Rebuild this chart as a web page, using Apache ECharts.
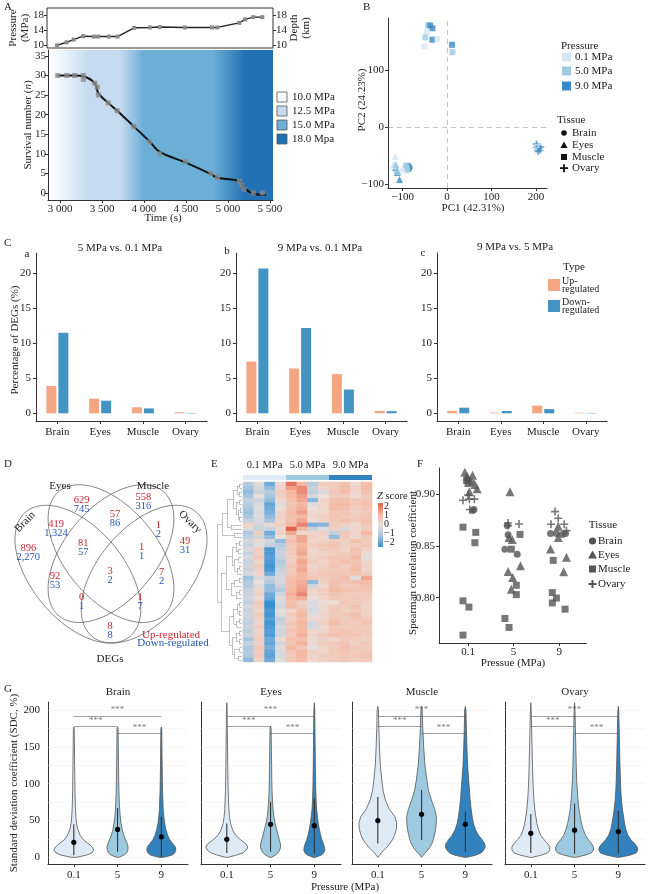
<!DOCTYPE html>
<html><head><meta charset="utf-8">
<script src="https://cdn.jsdelivr.net/npm/echarts@6.0.0/dist/echarts.min.js"></script>
<style>html,body{margin:0;padding:0;background:#fff;}#main{width:649px;height:894px;}</style>
</head><body><div id="main"></div>
<script>
// ======================= DATA =======================
// Panel A
const presTime = [2976,3088,3174,3285,3415,3463,3590,3693,3890,4076,4195,4492,4813,4875,5136,5204,5302,5409];
const presMPa  = [10.0,10.8,11.5,12.4,12.3,12.3,12.3,12.3,14.6,14.7,14.8,14.7,14.7,14.7,15.9,16.8,17.4,17.4];
const survTime = [2973,3080,3174,3278,3278,3415,3444,3456,3574,3681,3878,4064,4187,4492,4797,4875,5136,5164,5192,5302,5409];
const survN    = [30,30,30,30,29,28,27,25,23,21,17,13,10,8,5,4,3,2,1,0,0];
const survLineTime = [2973,3174,3278,3415,3456,3574,3681,3878,4064,4187,4492,4797,4875,5136,5192,5302,5450];
const survLineN    = [30,30,29.8,28,25.5,23,21,17,13.2,10.5,7.8,4.8,3.9,3.0,1.3,-0.2,-0.5];
const presLegend = ['10.0 MPa','12.5 MPa','15.0 MPa','18.0 Mpa'];
const presTicks = [10,14,18];
const timeTicks = [3000,3500,4000,4500,5000,5500];
const survTicks = [0,5,10,15,20,25,30,35];

// Panel B (PCA)
const pcaPC1 =  [-43,-38,-33,-46,-49,-33,-51,-22,11,12,   201,204,207,203,209,211,199,206,205,  -87,-84,-86,-95,-99,-92,-90,-93,-89,  -117,-119,-116,-114,-112,-107,-121,-115,-110];
const pcaPC2 =  [178,178,173,167,157,153,141,154,144,131, -30,-34,-37,-40,-41,-35,-36,-31,-43,  -68,-71,-74,-72,-75,-77,-70,-67,-75,   -52,-64,-71,-75,-80,-92,-68,-66,-78];
const pcaTissue=[2,2,2,2,2,2,2,2,2,2, 3,3,3,3,3,3,3,3,3, 0,0,0,0,0,0,0,0,0, 1,1,1,1,1,1,1,1,1];
const pcaPres = [1,2,2,0,1,2,0,0,2,1, 2,2,2,1,2,2,1,0,2, 2,2,2,0,0,0,1,1,1, 0,0,2,1,2,2,0,1,1];
const pressureNames = ['0.1 MPa','5.0 MPa','9.0 MPa'];
const tissueNames = ['Brain','Eyes','Muscle','Ovary'];

// Panel C (DEG percentages)
const degUpA   = [3.9,2.1,0.86,0.15];
const degDownA = [11.5,1.8,0.7,0.05];
const degUpB   = [7.4,6.4,5.6,0.33];
const degDownB = [20.7,12.2,3.4,0.3];
const degUpC   = [0.33,0.1,1.1,0.08];
const degDownC = [0.8,0.33,0.6,0.05];
const degTitles = ['5 MPa vs. 0.1 MPa','9 MPa vs. 0.1 MPa','9 MPa vs. 5 MPa'];
const degTicks = [0,5,10,15,20];

// Panel D (Venn counts)
const vennUp   = [629,558,419,57,1,49,896,81,1,92,3,7,0,1,8];
const vennDown = [745,316,1324,86,2,31,2270,57,1,53,2,2,1,7,8];

// Panel E (heatmap z scores, 44 genes x 12 samples)
const heatRows = [
[-0.8,-0.2,-1.5,0.2,1.8,1.0,-0.8,0.5,0.5,0.7,0.2,0.8],
[-1.0,-0.3,-1.2,0.3,1.3,1.5,-0.5,0.3,0.5,0.8,0.4,0.9],
[-1.2,-0.5,-0.8,0.5,1.0,1.5,-0.6,-0.2,0.6,0.9,0.3,0.8],
[-1.0,0.0,-1.0,0.4,0.9,1.3,-0.3,0.0,0.5,0.6,0.2,0.6],
[-0.6,-0.5,-1.2,0.2,0.8,1.2,-1.3,0.3,0.8,0.8,0.6,0.7],
[-0.8,-0.3,-1.6,-0.2,0.7,1.0,-0.2,0.3,0.9,0.9,0.6,0.8],
[-1.0,-0.2,-1.5,0.1,0.8,1.1,0.0,0.3,0.9,0.8,0.5,0.7],
[-1.1,-0.3,-1.4,0.3,0.9,1.3,0.2,0.2,0.7,0.7,0.4,0.6],
[-0.9,-0.2,-1.2,0.4,0.8,1.0,0.3,0.4,0.7,0.6,0.5,0.6],
[-0.5,-0.3,-1.0,0.3,0.8,1.2,0.1,0.3,0.6,0.8,0.6,0.7],
[0.3,-0.4,0.2,0.4,1.0,1.6,-1.4,-1.3,0.5,0.4,0.2,0.6],
[-0.2,-0.5,-0.5,0.2,2.0,1.0,-0.5,-0.2,0.4,-0.3,0.3,0.5],
[-0.9,0.5,-1.5,0.4,1.2,0.2,0.3,0.4,-0.6,0.6,0.3,1.0],
[-0.6,-0.4,-1.2,0.0,0.6,1.2,0.4,0.3,-1.2,0.5,0.2,0.6],
[-0.4,0.2,-0.4,-1.2,0.8,1.2,0.3,0.4,0.6,0.4,0.8,0.5],
[-0.5,-0.2,-0.6,-0.8,0.6,1.0,0.5,0.6,0.7,0.4,0.5,0.6],
[-0.3,0.5,-1.8,-0.6,0.6,1.1,0.3,0.5,0.6,0.3,0.8,0.4],
[-0.5,0.4,-1.8,-0.5,0.5,1.2,0.3,0.4,0.5,0.5,0.7,0.2],
[-0.3,0.6,-1.7,-0.6,0.5,1.0,0.4,0.5,0.7,0.6,0.9,-0.1],
[-0.5,0.3,-1.8,-0.8,0.4,1.2,0.5,0.3,0.6,0.8,0.7,0.3],
[-0.4,0.5,-1.9,-0.7,0.6,1.1,0.3,0.4,0.7,0.5,0.8,0.4],
[-0.5,0.4,-1.8,-0.5,0.5,1.2,0.4,0.5,0.6,0.6,0.9,0.3],
[-0.3,0.3,-1.5,-0.4,0.6,1.0,0.5,0.6,0.7,0.6,0.7,0.5],
[-1.1,-0.3,-0.6,-0.3,0.8,1.0,0.6,0.5,0.7,0.8,-0.2,1.2],
[-0.8,0.0,-0.8,-0.3,0.9,1.1,-1.2,0.4,0.8,0.7,0.8,0.9],
[-0.8,-0.2,-1.2,-0.5,0.8,1.2,-0.4,0.2,0.8,0.6,0.6,0.8],
[-0.6,0.3,-1.2,-0.8,1.0,1.3,0.3,0.5,0.9,0.8,0.7,0.7],
[-0.5,0.4,-1.5,-0.4,1.1,1.6,0.2,0.4,0.7,0.6,0.5,0.6],
[-0.4,0.2,-1.6,-0.2,1.0,1.1,0.1,0.3,0.6,0.5,0.6,0.5],
[-0.6,0.5,-2.0,-0.3,0.8,0.4,-0.3,0.1,0.1,0.6,0.5,0.4],
[-0.3,0.4,-2.0,-0.4,0.9,0.5,-0.2,0.2,0.5,0.5,0.7,0.3],
[-0.5,0.3,-1.8,-0.1,0.3,0.8,-0.3,0.2,0.6,0.4,0.6,0.4],
[-0.4,0.5,-1.9,-0.2,0.5,1.0,-0.2,0.3,0.5,0.6,0.8,0.3],
[-0.5,0.4,-1.7,-0.6,0.4,0.8,0.2,0.3,0.7,0.5,0.7,0.6],
[-0.6,0.3,-1.9,-0.5,0.6,1.0,-0.3,0.4,0.9,0.6,0.5,0.7],
[-0.5,0.5,-1.8,-0.3,0.5,0.9,-0.3,0.2,0.6,0.5,0.6,0.5],
[-0.7,0.4,-1.7,-0.4,0.7,1.0,0.2,0.3,0.6,0.7,0.6,0.6],
[-0.5,0.4,-1.8,-0.4,0.6,1.1,0.3,0.6,0.8,0.6,0.7,0.5],
[-1.0,0.5,-1.5,0.2,0.8,0.8,0.2,0.4,0.3,0.6,0.5,0.4],
[-0.6,0.4,-1.6,-0.4,0.7,1.1,0.2,0.5,0.6,0.7,0.4,0.6],
[-0.9,0.6,-1.4,-0.2,1.0,0.7,-0.1,0.3,0.5,0.8,0.6,0.5],
[-0.8,0.5,-1.6,-0.3,0.7,1.0,0.4,0.3,0.6,0.7,0.5,0.6],
[-0.9,0.6,-1.7,-0.3,0.6,1.0,0.3,0.5,0.5,0.6,0.6,0.7],
[-1.2,0.4,-1.5,-0.2,0.6,0.9,0.3,0.4,0.5,0.6,0.5,0.6]
];
const dendroTree = [1.0,
  [0.8,
    [0.6,
      [0.35,[0.2,[0.1,0,1],[0.12,2,3]],[0.25,[0.1,4,5],[0.15,[0.08,6,7],[0.1,8,9]]]],
      [0.45,10,11]],
    [0.3,12,13]],
  [0.85,
    [0.65,
      [0.4,[0.25,[0.12,14,15],[0.15,16,17]],[0.3,[0.15,18,19],[0.2,[0.1,20,21],22]]],
      [0.45,[0.3,[0.12,23,24],25],[0.25,[0.1,26,27],28]]],
    [0.5,
      [0.35,[0.2,[0.1,29,30],[0.12,31,32]],[0.22,[0.1,33,34],35]],
      [0.4,[0.25,[0.1,36,37],[0.12,38,39]],[0.3,[0.1,40,41],[0.15,42,43]]]]]];
const zTicks = [2,1,0,-1,-2];

// Panel F (Spearman correlations): jittered x position, value, tissue
const corrX = [1.0,1.07,1.1,1.13, 0.93,1.1,1.2,1.15,0.98,1.03, 0.89,1.17,1.15,0.89,1.02,0.89,0.97,1.0, 0.89,1.03,1.14,1.0,1.04,
               1.86,1.88,1.81,2.08, 1.92,1.9,1.97,2.15,1.88,1.98,1.95, 1.95,2.06,2.06,2.14,1.81,1.9, 1.88,1.88,2.12,
               2.81,2.94,3.07,3.14, 2.98,2.98,2.81,3.16,3.1, 2.87,2.85,2.94,2.85,3.13, 2.91,2.98,2.82,3.11,3.16];
const corrY = [0.914,0.911,0.884,0.885, 0.921,0.918,0.905,0.909,0.917,0.902, 0.868,0.863,0.853,0.797,0.791,0.764,0.913,0.910, 0.894,0.895,0.895,0.899,0.885,
               0.8695,0.8606,0.8468,0.842, 0.902,0.858,0.856,0.8308,0.8253,0.8195,0.8083, 0.8468,0.812,0.803,0.861,0.780,0.7714, 0.872,0.8695,0.871,
               0.862,0.862,0.861,0.862, 0.869,0.858,0.847,0.839,0.825, 0.836,0.805,0.7997,0.795,0.789, 0.883,0.8766,0.8708,0.8708,0.8647];
const corrTissue = [0,0,0,0, 1,1,1,1,1,1, 2,2,2,2,2,2,2,2, 3,3,3,3,3,
                    0,0,0,0, 1,1,1,1,1,1,1, 2,2,2,2,2,2, 3,3,3,
                    0,0,0,0, 1,1,1,1,1, 2,2,2,2,2, 3,3,3,3,3];
const corrCats = ['0.1','5','9'];
const corrTicks = [0.80,0.85,0.90];

// Panel G (violin profiles: relative half-width at vGridY; top = tail end)
const vGridY = [0,3,6,10,14,18,24,30,38,46,55,65,78,91,105,125,150,175,200];
const vBrain01 = [0.10,0.60,0.85,0.95,0.88,0.72,0.45,0.30,0.19,0.13,0.10,0.08,0.065,0.055,0.05,0.04,0.03,0.02];
const vBrain5  = [0.05,0.30,0.43,0.49,0.50,0.47,0.38,0.30,0.22,0.17,0.13,0.10,0.08,0.065,0.055,0.045,0.035,0.025];
const vBrain9  = [0.10,0.50,0.64,0.69,0.67,0.56,0.40,0.30,0.22,0.16,0.12,0.09,0.075,0.06,0.05,0.04,0.03,0.02];
const vEyes01  = [0.05,0.45,0.75,0.93,1.00,0.92,0.65,0.42,0.27,0.18,0.13,0.10,0.08,0.065,0.055,0.045,0.035,0.025,0.015];
const vEyes5   = [0.05,0.22,0.35,0.44,0.48,0.47,0.42,0.36,0.29,0.22,0.16,0.12,0.09,0.07,0.06,0.05,0.04,0.025];
const vEyes9   = [0.05,0.32,0.45,0.50,0.48,0.44,0.36,0.30,0.24,0.19,0.15,0.11,0.085,0.07,0.06,0.05,0.04,0.03,0.02];
const vMuscle01= [0.00,0.08,0.16,0.30,0.44,0.55,0.70,0.80,0.88,0.90,0.82,0.56,0.36,0.25,0.19,0.12,0.08,0.05,0.03];
const vMuscle5 = [0.00,0.08,0.17,0.30,0.40,0.48,0.56,0.61,0.67,0.70,0.71,0.63,0.47,0.33,0.25,0.16,0.10,0.06,0.03];
const vMuscle9 = [0.05,0.50,0.75,0.88,0.95,0.93,0.80,0.63,0.48,0.39,0.33,0.28,0.23,0.20,0.16,0.11,0.075,0.05,0.03];
const vOvary01 = [0.05,0.50,0.80,0.90,0.90,0.82,0.63,0.47,0.36,0.29,0.24,0.19,0.15,0.12,0.10,0.08,0.06,0.04,0.02];
const vOvary5  = [0.05,0.50,0.80,0.90,0.90,0.83,0.66,0.52,0.41,0.33,0.27,0.21,0.16,0.13,0.10,0.08,0.06,0.04,0.02];
const vOvary9  = [0.05,0.55,0.85,0.93,0.90,0.80,0.60,0.46,0.36,0.30,0.25,0.20,0.15,0.12,0.10,0.08,0.06,0.04,0.02];
const vTop  = [[177,177,177],[210,178,210],[205,205,205],[210,210,205]];
const vMid  = [[20.4,38,28],[24.5,45,43],[50,58.4,45],[32.6,37,35]];
const vLo   = [[3,7.6,0],[6,7.5,5],[19,23.5,7.6],[6,5,5]];
const vHi   = [[45,67,55],[46,75.5,80],[82,91.5,62],[59,73,63]];
const sigLevels = [192,177.5,168.5];
const sdcTicks = [0,50,100,150,200];
const sdcGrid = [0,25,50,75,100,125,150,175,200];

// ======================= BUILD =======================
const FONT = "'Liberation Serif','Times New Roman',serif";
const TXT = '#222';
const grid=[], xAxis=[], yAxis=[], series=[], graphic=[];

function addGrid(box){
  grid.push(Object.assign({containLabel:false, outerBoundsMode:'none', show:false}, box));
  return grid.length-1;
}
function valAxis(min,max,ticks,o){
  o=o||{};
  return {type:'value', min, max, position:o.pos,
    axisLine:{show:o.line!==false, onZero:false, lineStyle:{color:'#333', width:1}},
    axisTick:{show:!!ticks && o.tick!==false, length:3, inside:!!o.inside, customValues:ticks||[], lineStyle:{color:'#333'}},
    axisLabel:{show:!!ticks && o.label!==false, customValues:ticks||[], margin:o.margin==null?4:o.margin, formatter:o.fmt,
      fontFamily:FONT, fontSize:o.fs||11, color:TXT},
    splitLine:{show:false}, inverse:!!o.inverse};
}
function addX(gi,ax){ax.gridIndex=gi; xAxis.push(ax); return xAxis.length-1;}
function addY(gi,ax){ax.gridIndex=gi; yAxis.push(ax); return yAxis.length-1;}
function T(x,y,text,o){
  o=o||{};
  const st={text, fill:o.color||TXT, fontFamily:FONT, fontSize:o.size||11, fontStyle:o.italic?'italic':'normal',
    align:o.align||'center', verticalAlign:o.va||'middle', textAlign:o.align||'center', textVerticalAlign:o.va||'middle'};
  if(o.lh) st.lineHeight=o.lh;
  if(o.rich) st.rich=o.rich;
  graphic.push({type:'text', x, y, rotation:o.rot||0, z:50, silent:true, style:st});
}
function R(x,y,w,h,fill,stroke){
  graphic.push({type:'rect', shape:{x,y,width:w,height:h}, z:50, silent:true,
    style:{fill, stroke:stroke||null, lineWidth:stroke?0.8:0}});
}
const minusFmt = v => v<0 ? '\u2212'+(-v) : String(v);

// ---------- Panel A ----------
const tMin=2857, tMax=5536;
const presColors = ['#f7fbff','#c6dbef','#6baed6','#2171b5'];
let g = addGrid({left:47, top:8, width:226, height:40, show:true, borderColor:'#333', borderWidth:1, backgroundColor:'rgba(0,0,0,0)'});
let xi = addX(g, valAxis(tMin,tMax,null,{line:false}));
let yi = addY(g, valAxis(9.3,19.8,presTicks,{line:false, margin:3}));
addY(g, valAxis(9.3,19.8,presTicks,{line:false, pos:'right', margin:3}));
series.push({type:'line', xAxisIndex:xi, yAxisIndex:yi, data:presTime.map((t,i)=>[t,presMPa[i]]),
  symbol:'rect', symbolSize:4, showAllSymbol:true, itemStyle:{color:'#8a8a8a'}, lineStyle:{color:'#222', width:1.4}, z:3});

g = addGrid({left:48, top:50, width:225, height:150, show:true, borderWidth:0,
  backgroundColor:new echarts.graphic.LinearGradient(0,0,1,0,[
    {offset:0,color:'#ffffff'},{offset:0.035,color:'#f7fbff'},{offset:0.18,color:'#c6dbef'},{offset:0.32,color:'#c6dbef'},
    {offset:0.425,color:'#6baed6'},{offset:0.735,color:'#6baed6'},{offset:0.876,color:'#2171b5'},{offset:1,color:'#2171b5'}])});
xi = addX(g, valAxis(tMin,tMax,timeTicks,{fmt:v=>Math.floor(v/1000)+' '+String(v%1000).padStart(3,'0'), margin:4}));
yi = addY(g, valAxis(-1.8,36.5,survTicks,{margin:2}));
series.push({type:'line', xAxisIndex:xi, yAxisIndex:yi, data:survLineTime.map((t,i)=>[t,survLineN[i]]),
  symbol:'none', smooth:0.35, lineStyle:{color:'#111', width:2}, z:3});
series.push({type:'scatter', xAxisIndex:xi, yAxisIndex:yi, data:survTime.map((t,i)=>[t,survN[i]]),
  symbol:'rect', symbolSize:5, itemStyle:{color:'#888'}, z:4});
T(4,7,'A',{align:'left'});
T(19,28,'Pressure\n(MPa)',{rot:Math.PI/2, lh:12});
T(300,28,'Depth\n(km)',{rot:Math.PI/2, lh:12});
graphic.push({type:'text', x:28, y:125, rotation:Math.PI/2, z:50, silent:true, style:{text:'Survival number ({i|n})',
  fill:TXT, fontFamily:FONT, fontSize:11, align:'center', verticalAlign:'middle', textAlign:'center', textVerticalAlign:'middle',
  rich:{i:{fontStyle:'italic', fontFamily:FONT, fontSize:11, fill:TXT}}}});
T(163,218,'Time (s)');
[97,111,125,139].forEach((y,i)=>{ R(277,y-5,10,10,presColors[i],'#555'); T(292,y,presLegend[i],{align:'left'}); });

// ---------- Panel B ----------
const pcaColors = ['#d6e6f4','#9ecae1','#3a8ac6'];
const plusPath = 'path://M4,0H6V4H10V6H6V10H4V6H0V4H4Z';
const tissueSymbols = ['circle','triangle','rect',plusPath];
const tissueSizes = [6,7,6,7];
g = addGrid({left:388, top:18, width:159, height:170});
xi = addX(g, valAxis(-133,225,[-100,0,100,200],{fmt:minusFmt}));
yi = addY(g, valAxis(-107,191,[-100,0,100],{fmt:minusFmt}));
series.push({type:'lines', coordinateSystem:'cartesian2d', xAxisIndex:xi, yAxisIndex:yi, symbol:['none','none'], silent:true, z:1,
  lineStyle:{color:'#888', width:1, type:[5,4]}, data:[{coords:[[0,-107],[0,191]]},{coords:[[-133,0],[225,0]]}]});
for(let t=0;t<4;t++){
  const d=[];
  pcaPC1.forEach((x,i)=>{ if(pcaTissue[i]===t) d.push({value:[x,pcaPC2[i]], itemStyle:{color:pcaColors[pcaPres[i]]}}); });
  series.push({type:'scatter', xAxisIndex:xi, yAxisIndex:yi, data:d, symbol:tissueSymbols[t], symbolSize:tissueSizes[t], z:3});
}
T(363,7,'B',{align:'left'});
T(473,208,'PC1 (42.31%)');
T(362,100,'PC2 (24.23%)',{rot:Math.PI/2});
T(561,46,'Pressure',{align:'left'});
[57,71,86].forEach((y,i)=>{ R(562,y-4.5,9,9,pcaColors[i]); T(575,y,pressureNames[i],{align:'left'}); });
T(557,120,'Tissue',{align:'left'});
[133,145,157,168].forEach((y,i)=>{ T(572,y,tissueNames[i],{align:'left'}); });
graphic.push({type:'circle', shape:{cx:564,cy:133,r:2.8}, style:{fill:'#111'}, z:50, silent:true});
graphic.push({type:'polygon', shape:{points:[[564,141.5],[567.5,148],[560.5,148]]}, style:{fill:'#111'}, z:50, silent:true});
R(561,154,6,6,'#111');
R(560,167.2,8,1.8,'#111'); R(563.1,164.2,1.8,8,'#111');

// ---------- Panel C ----------
const degUp=[degUpA,degUpB,degUpC], degDown=[degDownA,degDownB,degDownC];
const cLeft=[36,236,437], cWidth=[171,171,170];
for(let k=0;k<3;k++){
  g = addGrid({left:cLeft[k], top:253, width:cWidth[k], height:168});
  xi = addX(g, {type:'category', data:tissueNames, axisLine:{show:true,onZero:false,lineStyle:{color:'#333'}},
    axisTick:{show:true,length:3,alignWithLabel:true,lineStyle:{color:'#333'}},
    axisLabel:{margin:6,fontFamily:FONT,fontSize:11,color:TXT}, splitLine:{show:false}});
  yi = addY(g, valAxis(-1.1,22.9,degTicks,{margin:5}));
  series.push({type:'bar', xAxisIndex:xi, yAxisIndex:yi, data:degUp[k], barWidth:10, barGap:'20%', itemStyle:{color:'#f4a582'}});
  series.push({type:'bar', xAxisIndex:xi, yAxisIndex:yi, data:degDown[k], barWidth:10, barGap:'20%', itemStyle:{color:'#4393c3'}});
}
T(4,243,'C',{align:'left'});
T(27,254,'a'); T(227,251,'b'); T(423,253,'c');
T(120,248,degTitles[0]); T(320,248,degTitles[1]); T(515,247,degTitles[2]);
T(15,340,'Percentage of DEGs (%)',{rot:Math.PI/2});
T(563,267,'Type',{align:'left'});
R(548,279,12,12,'#f4a582'); T(562,285,'Up-\nregulated',{align:'left', size:10, lh:8});
R(548,300,12,12,'#4393c3'); T(562,306,'Down-\nregulated',{align:'left', size:10, lh:8});

// ---------- Panel D (Venn) ----------
const vennEllipses = [[0.35,0.47,0.35,0.20,135],[0.50,0.555,0.35,0.20,135],[0.50,0.555,0.35,0.20,45],[0.65,0.47,0.35,0.20,45]];
const VX = u => 15+(u-0.065)*220.7, VY = v => 643-(v-0.185)*241.6;
vennEllipses.forEach(([cx,cy,a,b,rot])=>{
  const th=rot*Math.PI/180, pts=[];
  for(let k=0;k<=120;k++){ const t=k/120*2*Math.PI;
    const u=cx+a*Math.cos(t)*Math.cos(th)-b*Math.sin(t)*Math.sin(th);
    const v=cy+a*Math.cos(t)*Math.sin(th)+b*Math.sin(t)*Math.cos(th);
    pts.push([VX(u),VY(v)]); }
  graphic.push({type:'polygon', shape:{points:pts}, style:{fill:null, stroke:'#666', lineWidth:0.8}, z:40, silent:true});
});
const vennPos = [[81.7,505],[143.3,502],[56,528.7],[115,519],[158.3,529.5],[185,546],[28.3,552.8],[83.3,548],[141.7,552],[55,580.5],[110,576],[161.7,576.7],[81.7,601.3],[140,601.3],[110,631]];
const fmtK = n => n.toLocaleString('en-US');
vennPos.forEach(([x,y],i)=>{ T(x,y-4.5,fmtK(vennUp[i]),{color:'#c8262e',size:10.5}); T(x,y+4.5,fmtK(vennDown[i]),{color:'#2457b3',size:10.5}); });
T(4,464,'D',{align:'left'});
T(60,486,'Eyes'); T(153,486,'Muscle');
T(25,522,'Brain',{rot:Math.PI/4}); T(190,522,'Ovary',{rot:-Math.PI/4});
T(110,659,'DEGs');
T(171,635,'Up-regulated',{color:'#c8262e'}); T(173,643.5,'Down-regulated',{color:'#2457b3'});

// ---------- Panel E (heatmap) ----------
const segs=[];
function walk(n){ if(typeof n==='number') return {y:n,h:0};
  const a=walk(n[1]), b=walk(n[2]);
  segs.push([[a.h,a.y],[n[0],a.y]],[[b.h,b.y],[n[0],b.y]],[[n[0],a.y],[n[0],b.y]]);
  return {y:(a.y+b.y)/2,h:n[0]}; }
walk(dendroTree);
g = addGrid({left:217, top:482, width:25, height:180});
xi = addX(g, Object.assign(valAxis(0,1.02,null,{line:false}),{inverse:true}));
yi = addY(g, Object.assign(valAxis(-0.5,43.5,null,{line:false}),{inverse:true}));
series.push({type:'lines', coordinateSystem:'cartesian2d', xAxisIndex:xi, yAxisIndex:yi, symbol:['none','none'], silent:true,
  lineStyle:{color:'#666', width:0.8}, data:segs.map(s=>({coords:s}))});
g = addGrid({left:243, top:482, width:129, height:180});
xi = addX(g, {type:'category', data:heatRows[0].map((_,i)=>i), show:false});
yi = addY(g, {type:'category', data:heatRows.map((_,i)=>i), show:false, inverse:true});
const heatData=[]; heatRows.forEach((row,r)=>row.forEach((z,c)=>heatData.push([c,r,z])));
series.push({type:'heatmap', xAxisIndex:xi, yAxisIndex:yi, data:heatData, itemStyle:{borderWidth:0}});
const heatIdx = series.length-1;
const zColors = ['#3a8fd0','#a9c6de','#ebe0dc','#f5b8a1','#e1604d'];
[['0.1 MPa','#deebf7',243],['5.0 MPa','#9ecae1',286],['9.0 MPa','#3182bd',329]].forEach(([s,c,x])=>{
  R(x,475,43,5,c); T(x+21.5,465,s,{size:10.5}); });
T(211,464,'E',{align:'left'});
graphic.push({type:'text', x:377, y:496, z:50, silent:true, style:{text:'{i|Z} score', fill:TXT, fontFamily:FONT, fontSize:10.5,
  align:'left', verticalAlign:'middle', textAlign:'left', textVerticalAlign:'middle', rich:{i:{fontStyle:'italic',fontFamily:FONT,fontSize:10.5,fill:TXT}}}});
graphic.push({type:'rect', shape:{x:378,y:503,width:5,height:44}, z:50, silent:true,
  style:{fill:new echarts.graphic.LinearGradient(0,0,0,1,[{offset:0,color:zColors[4]},{offset:0.27,color:zColors[3]},{offset:0.5,color:zColors[2]},{offset:0.73,color:zColors[1]},{offset:1,color:zColors[0]}])}});
zTicks.forEach((z,i)=>T(384,506+i*9,minusFmt(z),{align:'left',size:10}));

// ---------- Panel F ----------
const fSymbols = ['circle','triangle','rect',plusPath], fSizes=[7,9,7,8];
g = addGrid({left:439, top:468, width:147.5, height:175});
xi = addX(g, valAxis(0.363,3.6,[1,2,3],{fmt:v=>corrCats[Math.round(v)-1]}));
yi = addY(g, valAxis(0.7564,0.925,corrTicks,{fmt:v=>v.toFixed(2)}));
for(let t=0;t<4;t++){
  const d=[]; corrX.forEach((x,i)=>{ if(corrTissue[i]===t) d.push([x,corrY[i]]); });
  series.push({type:'scatter', xAxisIndex:xi, yAxisIndex:yi, data:d, symbol:fSymbols[t], symbolSize:fSizes[t], itemStyle:{color:'#555'}, z:3});
}
T(417,464,'F',{align:'left'});
T(413,563,'Spearman correlation coefficient',{rot:Math.PI/2});
T(513,663,'Pressue (MPa)');
T(603,525,'Tissue');
T(598,541,'Brain',{align:'left'}); T(598,555,'Eyes',{align:'left'}); T(598,569,'Muscle',{align:'left'}); T(598,584,'Ovary',{align:'left'});
graphic.push({type:'circle', shape:{cx:592.5,cy:541,r:3.6}, style:{fill:'#555'}, z:50, silent:true});
graphic.push({type:'polygon', shape:{points:[[592.5,550.5],[597,558.5],[588,558.5]]}, style:{fill:'#555'}, z:50, silent:true});
R(589,565.5,7,7,'#555');
R(588.5,583,8,2,'#555'); R(591.5,580,2,8,'#555');

// ---------- Panel G (violins) ----------
const violinW = [[vBrain01,vBrain5,vBrain9],[vEyes01,vEyes5,vEyes9],[vMuscle01,vMuscle5,vMuscle9],[vOvary01,vOvary5,vOvary9]];
const vColors = ['#deebf7','#9ecae1','#3182bd'];
const HALF = 21;
const gLeft = [48,201,352,505];
for(let t=0;t<4;t++){
  g = addGrid({left:gLeft[t], top:702, width:140, height:162});
  xi = addX(g, valAxis(0.41,3.61,[1,2,3],{fmt:v=>corrCats[Math.round(v)-1], margin:6}));
  yi = addY(g, valAxis(-9,211,sdcTicks,{label:t===0, tick:false, margin:8}));
  series.push({type:'lines', coordinateSystem:'cartesian2d', xAxisIndex:xi, yAxisIndex:yi, symbol:['none','none'], silent:true, z:1,
    lineStyle:{color:'#ececec', width:0.8}, data:sdcGrid.map(v=>({coords:[[0.41,v],[3.61,v]]}))});
  const tt=t;
  series.push({type:'custom', xAxisIndex:xi, yAxisIndex:yi, z:2, silent:true,
    data:[[1,vMid[t][0]],[2,vMid[t][1]],[3,vMid[t][2]]],
    renderItem:(params,api)=>{
      const p=Math.round(api.value(0))-1, prof=violinW[tt][p], top=vTop[tt][p];
      const ys=[]; vGridY.forEach((y,k)=>{ if(y<top && prof[k]!=null) ys.push([y,prof[k]]); }); ys.push([top,0]);
      const right=[], left=[];
      ys.forEach(([y,w])=>{ const c=api.coord([p+1,y]); right.push([c[0]+w*HALF,c[1]]); left.push([c[0]-w*HALF,c[1]]); });
      const pts=right.concat(left.reverse());
      const lo=api.coord([p+1,vLo[tt][p]]), hi=api.coord([p+1,vHi[tt][p]]), m=api.coord([p+1,vMid[tt][p]]);
      return {type:'group', children:[
        {type:'polygon', shape:{points:pts}, style:{fill:vColors[p], stroke:'#555', lineWidth:0.8}},
        {type:'line', shape:{x1:lo[0],y1:lo[1],x2:hi[0],y2:hi[1]}, style:{stroke:'#333', lineWidth:1.1}},
        {type:'circle', shape:{cx:m[0],cy:m[1],r:2.6}, style:{fill:'#000'}}]};
    }});
  series.push({type:'lines', coordinateSystem:'cartesian2d', xAxisIndex:xi, yAxisIndex:yi, symbol:['none','none'], silent:true, z:3,
    lineStyle:{color:'#444', width:1}, data:[{coords:[[1,sigLevels[0]],[3,sigLevels[0]]]},{coords:[[1,sigLevels[1]],[2,sigLevels[1]]]},{coords:[[2,sigLevels[2]],[3,sigLevels[2]]]}]});
  series.push({type:'scatter', xAxisIndex:xi, yAxisIndex:yi, symbol:'circle', symbolSize:1, silent:true, z:4,
    itemStyle:{color:'rgba(0,0,0,0)'},
    data:[[2,sigLevels[0]],[1.5,sigLevels[1]],[2.5,sigLevels[2]]],
    label:{show:true, position:'top', distance:1, formatter:'***', fontSize:9, color:'#555', fontFamily:FONT}});
  T(gLeft[t]+70,692,tissueNames[t]);
}
T(4,689,'G',{align:'left'});
T(14,783,'Standard deviation coefficient (SDC, %)',{rot:Math.PI/2});
T(345,887,'Pressure (MPa)');

const chart = echarts.init(document.getElementById('main'), null, {renderer:'canvas', width:649, height:894});
chart.setOption({animation:false, backgroundColor:'#fff', grid, xAxis, yAxis, series,
  visualMap:[{type:'continuous', show:false, min:-2, max:2, seriesIndex:heatIdx, dimension:2, inRange:{color:zColors}}],
  graphic:{elements:graphic}});
</script></body></html>
